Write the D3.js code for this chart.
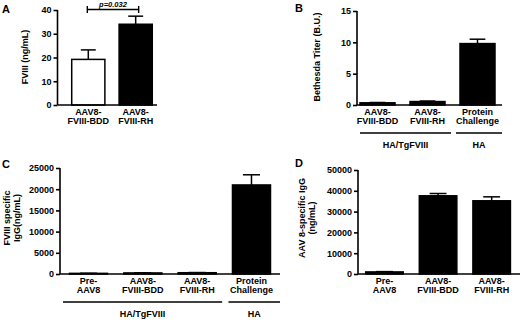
<!DOCTYPE html>
<html lang="en">
<head>
<meta charset="UTF-8">
<title>FVIII panels</title>
<style>
    body { margin: 0; background: #fff; }
    svg text { font-family: "Liberation Sans", Arial, sans-serif; font-weight: bold; fill: #000; }
    .axis path, .axis line { stroke: #000; stroke-width: 1.6px; }
    .axis text { font-size: 9px; }
</style>
</head>
<body>
<svg width="520" height="322"></svg>
<script src="https://d3js.org/d3.v7.min.js"></script>
<script>
// panel A
const catsA = [["AAV8-", "FVIII-BDD"], ["AAV8-", "FVIII-RH"]];
const meanA = [19.2, 34.0];
const semA = [4.0, 3.4];
const ticksA = [0, 10, 20, 30, 40];
// panel B
const catsB = [["AAV8-", "FVIII-BDD"], ["AAV8-", "FVIII-RH"], ["Protein", "Challenge"]];
const meanB = [0.35, 0.55, 9.8];
const semB = [0.05, 0.08, 0.7];
const ticksB = [0, 5, 10, 15];
const groupsB = [{ label: "HA/TgFVIII", from: 0, to: 1 }, { label: "HA", from: 2, to: 2 }];
// panel C
const catsC = [["Pre-", "AAV8"], ["AAV8-", "FVIII-BDD"], ["AAV8-", "FVIII-RH"], ["Protein", "Challenge"]];
const meanC = [150, 250, 300, 21000];
const semC = [20, 30, 40, 2400];
const ticksC = [0, 5000, 10000, 15000, 20000, 25000];
const groupsC = [{ label: "HA/TgFVIII", from: 0, to: 2 }, { label: "HA", from: 3, to: 3 }];
// panel D
const catsD = [["Pre-", "AAV8"], ["AAV8-", "FVIII-BDD"], ["AAV8-", "FVIII-RH"]];
const meanD = [1000, 37600, 35200];
const semD = [150, 1100, 1900];
const ticksD = [0, 10000, 20000, 30000, 40000, 50000];

const svg = d3.select("svg");

function panel(p) {
    const g = svg.append("g");
    const x = d3.scaleBand()
        .domain(p.cats.map((c, i) => i))
        .range([p.x0, p.x1])
        .paddingInner(0.3)
        .paddingOuter(p.po)
        .align(p.align);
    const y = d3.scaleLinear().domain([0, p.ticks[p.ticks.length - 1]]).range([p.yb, p.yt]);
    const bw = x.bandwidth();

    g.selectAll("rect.bar")
        .data(p.means)
        .enter().append("rect")
        .attr("x", (d, i) => x(i))
        .attr("y", d => y(d))
        .attr("width", bw)
        .attr("height", d => p.yb - y(d))
        .attr("fill", (d, i) => p.fills ? p.fills[i] : "#000")
        .attr("stroke", "#000")
        .attr("stroke-width", 1.5);

    // error bars (upper only)
    const cap = bw * 0.45;
    p.means.forEach((m, i) => {
        const cx = x(i) + bw / 2;
        const top = y(m + p.sems[i]);
        g.append("line").attr("x1", cx).attr("x2", cx).attr("y1", y(m)).attr("y2", top)
            .attr("stroke", "#000").attr("stroke-width", 1.5);
        g.append("line").attr("x1", cx - cap / 2).attr("x2", cx + cap / 2).attr("y1", top).attr("y2", top)
            .attr("stroke", "#000").attr("stroke-width", 1.5);
    });

    const ax = g.append("g")
        .attr("class", "axis")
        .attr("transform", `translate(${p.x0},0)`)
        .call(d3.axisLeft(y).tickValues(p.ticks).tickSize(4).tickSizeOuter(0).tickPadding(2).tickFormat(d3.format("d")));
    ax.select(".domain").attr("d", `M0,${p.yt}V${p.yb}`);

    g.append("line")
        .attr("x1", p.x0).attr("x2", p.x1)
        .attr("y1", p.yb).attr("y2", p.yb)
        .attr("stroke", "#000").attr("stroke-width", 1.6);

    // category labels
    p.cats.forEach((c, i) => {
        const t = g.append("text")
            .attr("x", x(i) + bw / 2)
            .attr("text-anchor", "middle")
            .attr("font-size", 9);
        c.forEach((line, k) => {
            t.append("tspan").attr("x", x(i) + bw / 2).attr("y", p.yb + 9.5 + k * 9).text(line);
        });
    });

    // group brackets
    (p.groups || []).forEach(gr => {
        const a = gr.from === 0 ? p.x0 + 3 : x(gr.from) - 4;
        const b = gr.to === p.cats.length - 1 ? p.x1 : x(gr.to) + bw + 6;
        g.append("line").attr("x1", a).attr("x2", b)
            .attr("y1", p.yb + 28).attr("y2", p.yb + 28)
            .attr("stroke", "#000").attr("stroke-width", 1.5);
        g.append("text")
            .attr("x", (a + b) / 2)
            .attr("y", p.yb + 42.5)
            .attr("text-anchor", "middle")
            .attr("font-size", 9)
            .text(gr.label);
    });

    // y label
    const yl = g.append("text")
        .attr("transform", `translate(${p.lx},${p.ly}) rotate(-90)`)
        .attr("text-anchor", "middle")
        .attr("font-size", 9);
    p.ylabel.forEach((line, k) => {
        yl.append("tspan").attr("x", 0).attr("y", k * 10).text(line);
    });

    g.append("text")
        .attr("x", p.letter[1]).attr("y", p.letter[2])
        .attr("font-size", 11)
        .text(p.letter[0]);

    return { x, y, g };
}

const A = panel({
    cats: catsA, means: meanA, sems: semA, ticks: ticksA, fills: ["#fff", "#000"],
    x0: 57.5, x1: 157, yt: 10, yb: 105, po: 0.2, align: 0.75,
    ylabel: ["FVIII (ng/mL)"], lx: 28, ly: 57, letter: ["A", 2, 13]
});

// significance bracket
const bx1 = A.x(0) + A.x.bandwidth() / 2, bx2 = A.x(1) + A.x.bandwidth() / 2;
A.g.append("path")
    .attr("d", `M${bx1 - 1},6V13M${bx1 - 1},9.5H${bx2 + 3}M${bx2 + 3},6V13`)
    .attr("fill", "none").attr("stroke", "#000").attr("stroke-width", 1.4);
A.g.append("text")
    .attr("x", (bx1 + bx2) / 2 + 1).attr("y", 6.5)
    .attr("text-anchor", "middle")
    .attr("font-size", 7.5)
    .attr("font-weight", "normal")
    .attr("font-style", "italic")
    .text("p=0.032");

panel({
    cats: catsB, means: meanB, sems: semB, ticks: ticksB, groups: groupsB,
    x0: 357, x1: 502, yt: 11, yb: 105, po: 0.1, align: 0.3,
    ylabel: ["Bethesda Titer (B.U.)"], lx: 320, ly: 57, letter: ["B", 295, 12]
});

panel({
    cats: catsC, means: meanC, sems: semC, ticks: ticksC, groups: groupsC,
    x0: 60, x1: 280, yt: 168, yb: 274, po: 0.175, align: 0.5,
    ylabel: ["FVIII specific", "IgG(ng/mL)"], lx: 10, ly: 218, letter: ["C", 2, 168]
});

panel({
    cats: catsD, means: meanD, sems: semD, ticks: ticksD,
    x0: 358, x1: 522, yt: 170, yb: 274, po: 0.18, align: 0.4,
    ylabel: ["AAV 8-specific IgG", "(ng/mL)"], lx: 305, ly: 218, letter: ["D", 295, 167]
});
</script>
</body>
</html>
